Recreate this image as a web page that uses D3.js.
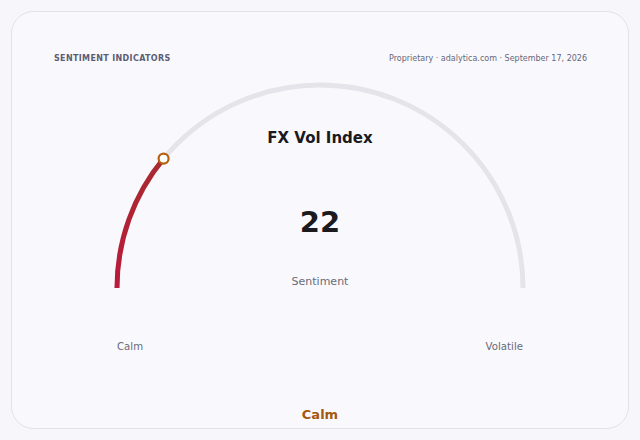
<!DOCTYPE html>
<html>
<head>
  <meta charset="utf-8">
  <title>FX Vol Index</title>
  <script src="https://cdnjs.cloudflare.com/ajax/libs/d3/7.8.5/d3.min.js"></script>
  <style>
    body {
      margin: 0;
      background: #f7f7fb;
      font-family: "DejaVu Sans", sans-serif;
    }
  </style>
</head>
<body>
  <div id="chart"></div>
  <script>
    // Gauge data
    const domain = [0, 100];
    const values = [22];
    const endLabels = ["Calm", "Volatile"];
    const title = "FX Vol Index";
    const subtitle = "Sentiment";
    const status = "Calm";
    const header = "SENTIMENT INDICATORS";
    const source = "Proprietary · adalytica.com · September 17, 2026";

    const width = 640;
    const height = 440;
    const cx = 320, cy = 288, r = 203;

    const svg = d3.select("#chart")
      .append("svg")
      .attr("width", width)
      .attr("height", height);

    // Card
    svg.append("rect")
      .attr("x", 11.5).attr("y", 11.5)
      .attr("width", 617).attr("height", 417)
      .attr("rx", 22)
      .attr("fill", "#f9f9fd")
      .attr("stroke", "#e1e1ea");

    const defs = svg.append("defs");
    const grad = defs.append("linearGradient")
      .attr("id", "valGrad")
      .attr("x1", "0").attr("y1", "1").attr("x2", "0").attr("y2", "0");
    grad.append("stop").attr("offset", "0%").attr("stop-color", "#bb1a3c");
    grad.append("stop").attr("offset", "100%").attr("stop-color", "#a82a30");

    // angle scale: -90deg (left) to +90deg (right)
    const angle = d3.scaleLinear().domain(domain).range([-Math.PI / 2, Math.PI / 2]);

    const g = svg.append("g").attr("transform", `translate(${cx},${cy})`);

    const arc = d3.arc()
      .innerRadius(r)
      .outerRadius(r);

    // Track
    g.append("path")
      .attr("d", arc({ startAngle: angle(domain[0]), endAngle: angle(domain[1]) }))
      .attr("fill", "none")
      .attr("stroke", "#e4e4ea")
      .attr("stroke-width", 5)
      .attr("stroke-linecap", "round");

    // Value arc
    g.append("path")
      .attr("d", arc({ startAngle: angle(domain[0]), endAngle: angle(values[0]) }))
      .attr("fill", "none")
      .attr("stroke", "url(#valGrad)")
      .attr("stroke-width", 5)
      .attr("stroke-linecap", "round");

    // Marker
    const a = angle(values[0]);
    g.append("circle")
      .attr("cx", r * Math.sin(a))
      .attr("cy", -r * Math.cos(a))
      .attr("r", 5)
      .attr("fill", "#ffffff")
      .attr("stroke", "#b5600f")
      .attr("stroke-width", 2.2);

    // Texts
    svg.append("text")
      .attr("x", 54).attr("y", 61)
      .attr("font-size", 8).attr("font-weight", "bold")
      .attr("letter-spacing", 0.35)
      .attr("fill", "#5d5d72")
      .text(header);

    svg.append("text")
      .attr("x", 587).attr("y", 61)
      .attr("text-anchor", "end")
      .attr("font-size", 8)
      .attr("fill", "#66667a")
      .text(source);

    svg.append("text")
      .attr("x", cx).attr("y", 143)
      .attr("text-anchor", "middle")
      .attr("font-size", 15).attr("font-weight", "bold")
      .attr("fill", "#1a1a1f")
      .text(title);

    svg.append("text")
      .attr("x", cx).attr("y", 232)
      .attr("text-anchor", "middle")
      .attr("font-size", 29).attr("font-weight", "bold")
      .attr("fill", "#1a1a1f")
      .text(values[0]);

    svg.append("text")
      .attr("x", cx).attr("y", 285)
      .attr("text-anchor", "middle")
      .attr("font-size", 11)
      .attr("fill", "#6a6a78")
      .text(subtitle);

    svg.append("text")
      .attr("x", cx - r).attr("y", 350)
      .attr("font-size", 10.2)
      .attr("fill", "#6a6a78")
      .text(endLabels[0]);

    svg.append("text")
      .attr("x", cx + r).attr("y", 350)
      .attr("text-anchor", "end")
      .attr("font-size", 10.2)
      .attr("fill", "#6a6a78")
      .text(endLabels[1]);

    svg.append("text")
      .attr("x", cx).attr("y", 419)
      .attr("text-anchor", "middle")
      .attr("font-size", 13).attr("font-weight", "bold")
      .attr("fill", "#a5580f")
      .text(status);
  </script>
</body>
</html>
